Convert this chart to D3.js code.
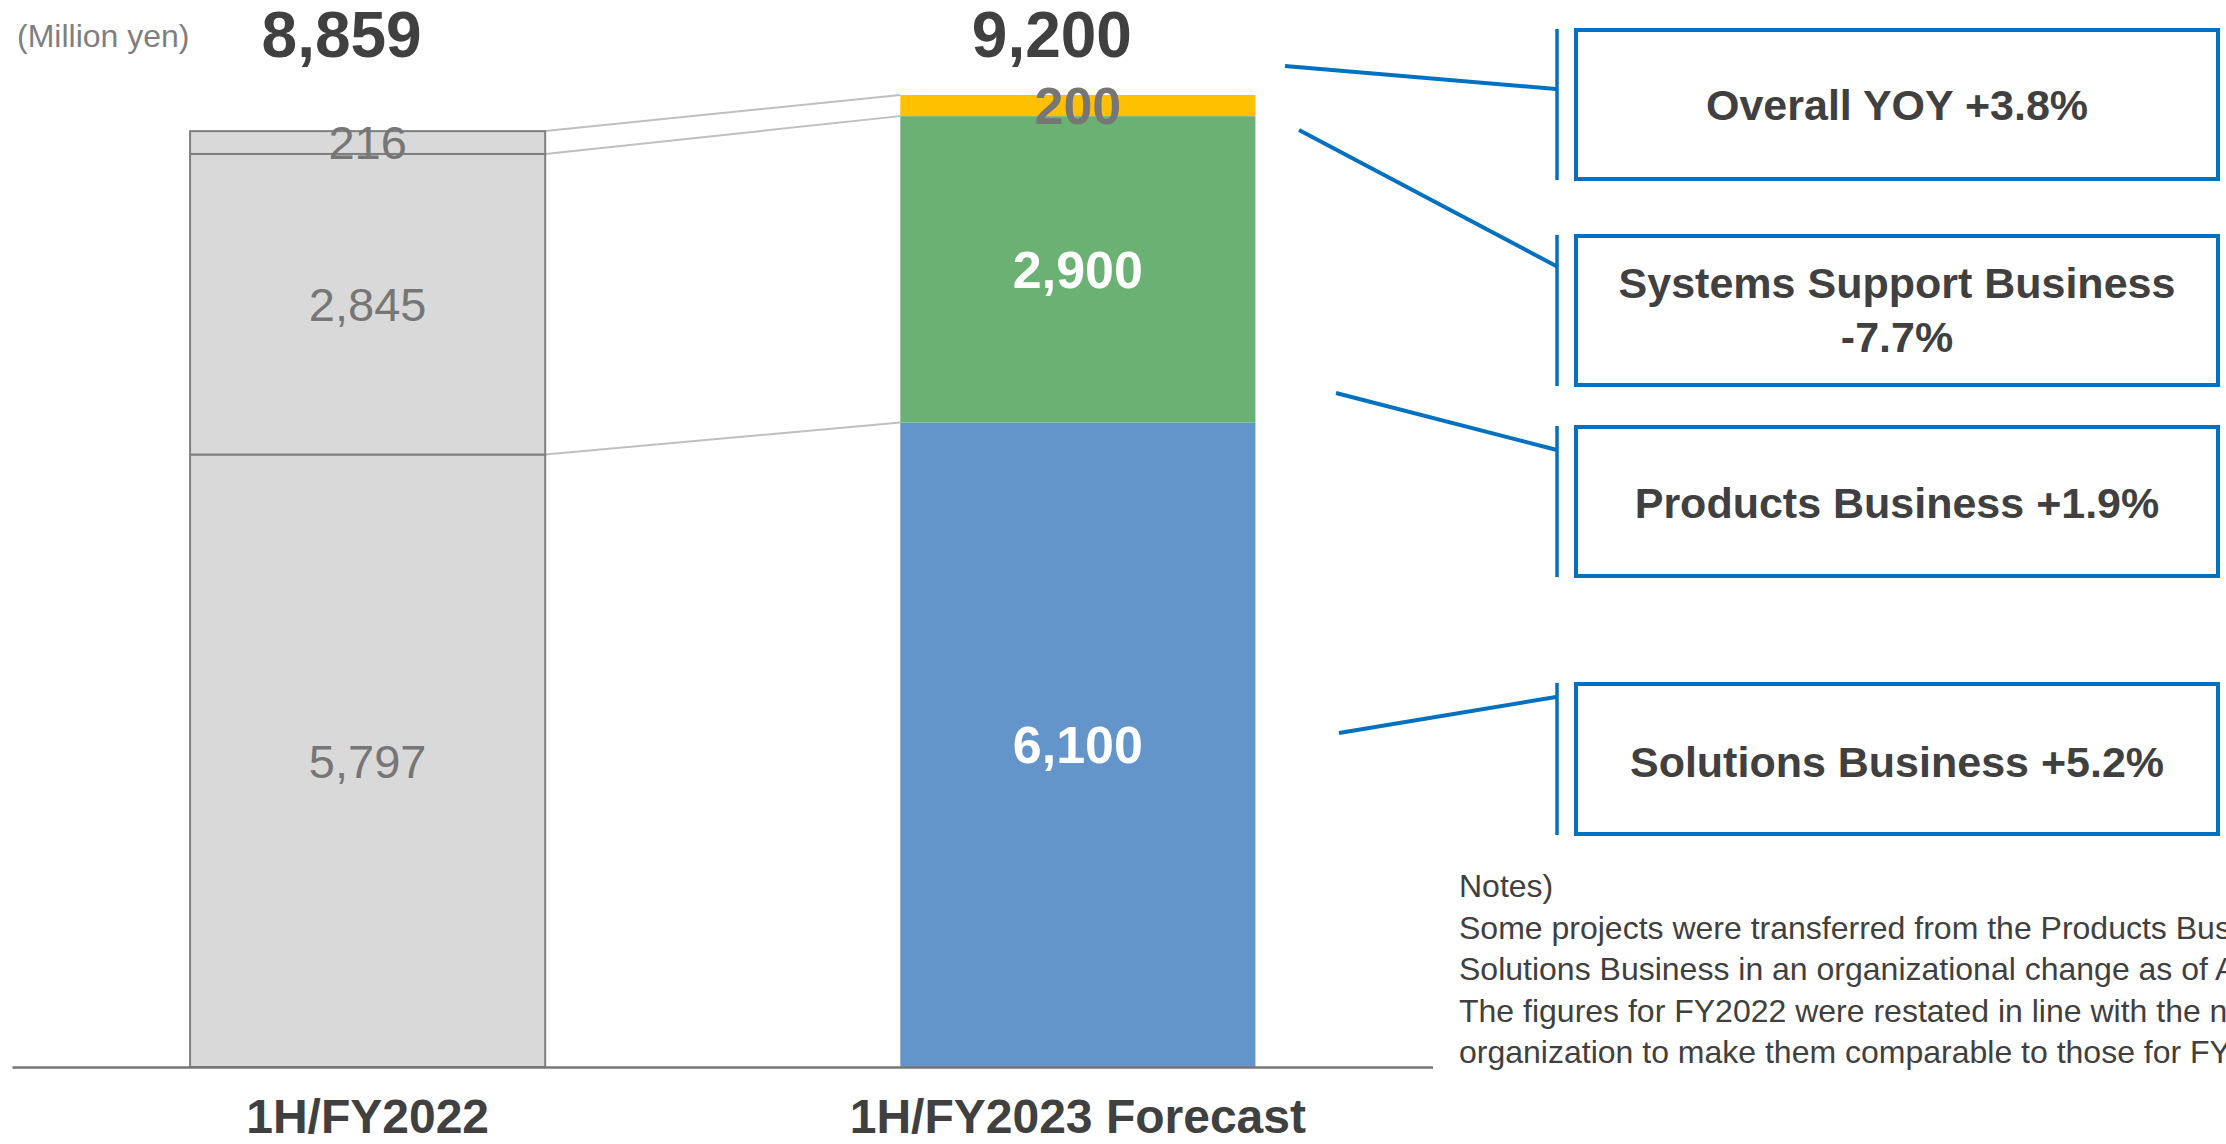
<!DOCTYPE html>
<html>
<head>
<meta charset="utf-8">
<script src="https://cdn.jsdelivr.net/npm/d3@7"></script>
<style>
  html, body { margin: 0; padding: 0; background: #fff; overflow: hidden; }
  svg { display: block; }
  text { font-family: "Liberation Sans", Arial, sans-serif; }
</style>
</head>
<body>
<svg id="chart" width="2226" height="1144"></svg>
<script>
// ---- data ----
const categories = ["1H/FY2022", "1H/FY2023 Forecast"];
const seriesNames = ["Solutions Business", "Products Business", "Systems Support Business"];
const solutions = [5797, 6100];
const products = [2845, 2900];
const systemsSupport = [216, 200];
const totals = [8859, 9200];
const unitLabel = "(Million yen)";
const calloutLines = [
  ["Overall YOY +3.8%"],
  ["Systems Support Business", "-7.7%"],
  ["Products Business +1.9%"],
  ["Solutions Business +5.2%"]
];
const notes = [
  "Notes)",
  "Some projects were transferred from the Products Business to the",
  "Solutions Business in an organizational change as of April 2023.",
  "The figures for FY2022 were restated in line with the new",
  "organization to make them comparable to those for FY2023."
];

// ---- build table ----
const table = categories.map((c, i) => ({
  category: c,
  "Solutions Business": solutions[i],
  "Products Business": products[i],
  "Systems Support Business": systemsSupport[i],
  total: totals[i]
}));
const stacked = d3.stack().keys(seriesNames)(table);

const svg = d3.select("#chart");
const x = d3.scaleBand().domain(categories).range([12.5, 1433]).paddingInner(0.5).paddingOuter(0.25);
const y = d3.scaleLinear().domain([0, 9200]).range([1067, 95]);
const bw = x.bandwidth();

const colorsNew = {
  "Solutions Business": "#6394ca",
  "Products Business": "#6bb174",
  "Systems Support Business": "#ffc000"
};
const fmt = d3.format(",");

// connector lines between the bars (at each stack boundary)
const c0 = categories[0], c1 = categories[1];
const boundaries = [
  [solutions[0], solutions[1]],
  [solutions[0] + products[0], solutions[1] + products[1]],
  [totals[0], totals[1]]
];
svg.append("g").selectAll("line").data(boundaries).join("line")
  .attr("x1", x(c0) + bw).attr("y1", d => y(d[0]))
  .attr("x2", x(c1)).attr("y2", d => y(d[1]))
  .attr("stroke", "#bfbfbf").attr("stroke-width", 2);

// bars
const gSeries = svg.append("g").selectAll("g").data(stacked).join("g");
gSeries.selectAll("rect").data(s => s.map(d => ({ key: s.key, d })))
  .join("rect")
  .attr("x", o => x(o.d.data.category))
  .attr("width", bw)
  .attr("y", o => y(o.d[1]))
  .attr("height", o => y(o.d[0]) - y(o.d[1]))
  .attr("fill", o => o.d.data.category === c0 ? "#d9d9d9" : colorsNew[o.key])
  .attr("stroke", o => o.d.data.category === c0 ? "#7f7f7f" : "none")
  .attr("stroke-width", 2);

// segment labels
gSeries.selectAll("text").data(s => s.map(d => ({ key: s.key, d })))
  .join("text")
  .attr("x", o => x(o.d.data.category) + bw / 2)
  .attr("y", o => (y(o.d[0]) + y(o.d[1])) / 2)
  .attr("dy", "0.36em")
  .attr("text-anchor", "middle")
  .attr("font-size", o => o.d.data.category === c0 ? 47 : 52)
  .attr("font-weight", o => o.d.data.category === c0 ? "normal" : "bold")
  .attr("fill", o => (o.d.data.category === c0 || o.key === "Systems Support Business") ? "#767676" : "#ffffff")
  .text(o => fmt(o.d[1] - o.d[0]));

// axis baseline
svg.append("line")
  .attr("x1", x.range()[0]).attr("x2", x.range()[1])
  .attr("y1", y(0) + 0.5).attr("y2", y(0) + 0.5)
  .attr("stroke", "#767676").attr("stroke-width", 2.5);

// category labels
svg.append("g").selectAll("text").data(categories).join("text")
  .attr("x", d => x(d) + bw / 2)
  .attr("y", 1133)
  .attr("text-anchor", "middle")
  .attr("font-size", 48).attr("font-weight", "bold").attr("fill", "#404040")
  .text(d => d);

// totals
svg.append("g").selectAll("text").data(table).join("text")
  .attr("x", d => x(d.category) + bw / 2 - 26)
  .attr("y", 57)
  .attr("text-anchor", "middle")
  .attr("font-size", 64).attr("font-weight", "bold").attr("fill", "#404040")
  .text(d => fmt(d.total));

// unit label
svg.append("text").attr("x", 17).attr("y", 47)
  .attr("font-size", 32).attr("fill", "#7f7f7f").text(unitLabel);

// callout boxes
const boxLayout = [
  { top: 29, bottom: 180, from: [1285, 66], to: [1556, 89], base: [120] },
  { top: 235, bottom: 386, from: [1299, 130], to: [1558, 267], base: [298, 352] },
  { top: 426, bottom: 577, from: [1336, 393], to: [1557, 450], base: [518] },
  { top: 683, bottom: 835, from: [1339, 733], to: [1556, 697], base: [777] }
];
const blue = "#0070c0";
const gBox = svg.append("g").selectAll("g").data(calloutLines).join("g");
gBox.append("line")
  .attr("x1", (d, i) => boxLayout[i].from[0]).attr("y1", (d, i) => boxLayout[i].from[1])
  .attr("x2", (d, i) => boxLayout[i].to[0]).attr("y2", (d, i) => boxLayout[i].to[1])
  .attr("stroke", blue).attr("stroke-width", 4);
gBox.append("line")
  .attr("x1", 1557).attr("x2", 1557)
  .attr("y1", (d, i) => boxLayout[i].top).attr("y2", (d, i) => boxLayout[i].bottom)
  .attr("stroke", blue).attr("stroke-width", 3.5);
gBox.append("rect")
  .attr("x", 1576).attr("width", 642)
  .attr("y", (d, i) => boxLayout[i].top + 1).attr("height", (d, i) => boxLayout[i].bottom - boxLayout[i].top - 2)
  .attr("fill", "none").attr("stroke", blue).attr("stroke-width", 4);
gBox.each(function(lines, i) {
  d3.select(this).selectAll("text.t").data(lines).join("text")
    .attr("class", "t")
    .attr("x", 1897)
    .attr("y", (d, j) => boxLayout[i].base[j])
    .attr("text-anchor", "middle")
    .attr("font-size", 43).attr("font-weight", "bold").attr("fill", "#404040")
    .text(d => d);
});

// notes
svg.append("g").selectAll("text").data(notes).join("text")
  .attr("x", 1459)
  .attr("y", (d, i) => 897 + i * 41.5)
  .attr("font-size", 32).attr("fill", "#404040")
  .text(d => d);
</script>
</body>
</html>
